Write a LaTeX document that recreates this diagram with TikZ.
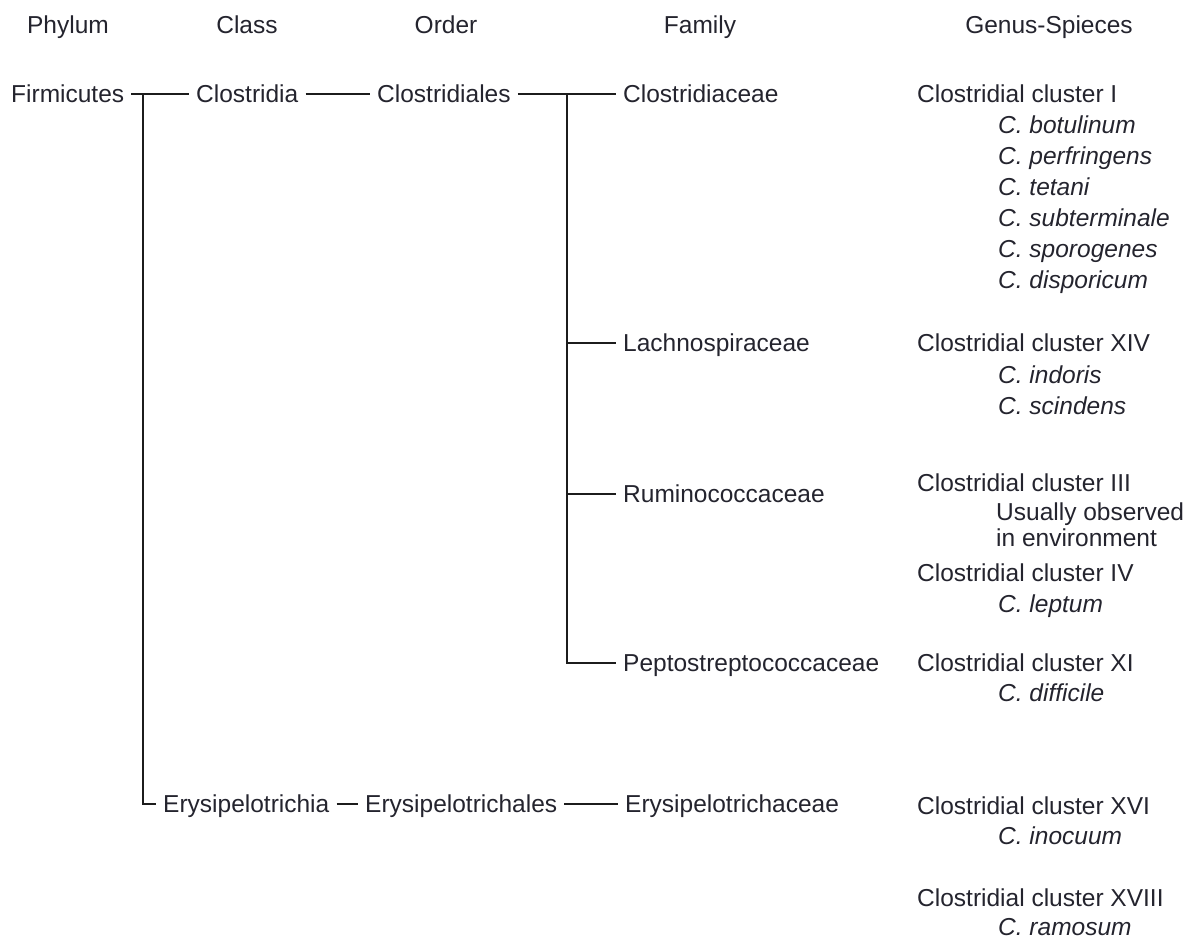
\documentclass[tikz,border=0pt]{standalone}
\usepackage{fontspec}
\setmainfont{Liberation Sans}
\definecolor{ink}{HTML}{24242E}
\definecolor{rule}{HTML}{1C1C1C}
\begin{document}
\begin{tikzpicture}[x=1pt,y=-1pt,
  every node/.style={text=ink,font=\fontsize{24.5}{29}\selectfont,
    inner ysep=0pt,text height=17.5pt,text depth=0pt},
  head/.style={anchor=center},
  lab/.style={anchor=west,inner xsep=7pt,xshift=-7pt},
  sp/.style={lab,font=\fontsize{24.5}{29}\selectfont\itshape},
  link/.style={draw=rule,line width=1.6pt}]
\useasboundingbox (0,0) rectangle (1184,942);

% column headings
\node[head] (hphy) at (68,25)   {Phylum};
\node[head] (hcla) at (247,25)  {Class};
\node[head] (hord) at (446,25)  {Order};
\node[head] (hfam) at (700,25)  {Family};
\node[head] (hgen) at (1049,25) {Genus-Spieces};

% taxonomy ranks
\node[lab] (firm)  at (11,94)   {Firmicutes};
\node[lab] (clos)  at (196,94)  {Clostridia};
\node[lab] (closo) at (377,94)  {Clostridiales};
\node[lab] (fcl)   at (623,94)  {Clostridiaceae};
\node[lab] (flach) at (623,343) {Lachnospiraceae};
\node[lab] (frum)  at (623,494) {Ruminococcaceae};
\node[lab] (fpep)  at (623,663) {Peptostreptococcaceae};
\node[lab] (ery)   at (163,804) {Erysipelotrichia};
\node[lab] (eryo)  at (365,804) {Erysipelotrichales};
\node[lab] (eryf)  at (625,804) {Erysipelotrichaceae};

% clusters and species
\node[lab] (c1)   at (917,94)  {Clostridial cluster I};
\node[sp]  (s1a)  at (998,125) {C. botulinum};
\node[sp]  (s1b)  at (998,156) {C. perfringens};
\node[sp]  (s1c)  at (998,187) {C. tetani};
\node[sp]  (s1d)  at (998,218) {C. subterminale};
\node[sp]  (s1e)  at (998,249) {C. sporogenes};
\node[sp]  (s1f)  at (998,280) {C. disporicum};
\node[lab] (c14)  at (917,343) {Clostridial cluster XIV};
\node[sp]  (s14a) at (998,375) {C. indoris};
\node[sp]  (s14b) at (998,406) {C. scindens};
\node[lab] (c3)   at (917,483) {Clostridial cluster III};
\node[lab] (n3a)  at (996,512) {Usually observed};
\node[lab] (n3b)  at (996,538) {in environment};
\node[lab] (c4)   at (917,573) {Clostridial cluster IV};
\node[sp]  (s4)   at (998,604) {C. leptum};
\node[lab] (c11)  at (917,663) {Clostridial cluster XI};
\node[sp]  (s11)  at (998,693) {C. difficile};
\node[lab] (c16)  at (917,806) {Clostridial cluster XVI};
\node[sp]  (s16)  at (998,836) {C. inocuum};
\node[lab] (c18)  at (917,898) {Clostridial cluster XVIII};
\node[sp]  (s18)  at (998,927) {C. ramosum};

% junction points of the tree
\coordinate (j1) at (143,94);
\coordinate (j2) at (567,94);

% connectors
\draw[link] (firm.east)  -- (clos.west);
\draw[link] (clos.east)  -- (closo.west);
\draw[link] (closo.east) -- (fcl.west);
\draw[link] (j1) |- (ery.west);
\draw[link] (ery.east)   -- (eryo.west);
\draw[link] (eryo.east)  -- (eryf.west);
\draw[link] (j2) |- (fpep.west);
\draw[link] (j2 |- flach.west) -- (flach.west);
\draw[link] (j2 |- frum.west)  -- (frum.west);
\end{tikzpicture}
\end{document}
